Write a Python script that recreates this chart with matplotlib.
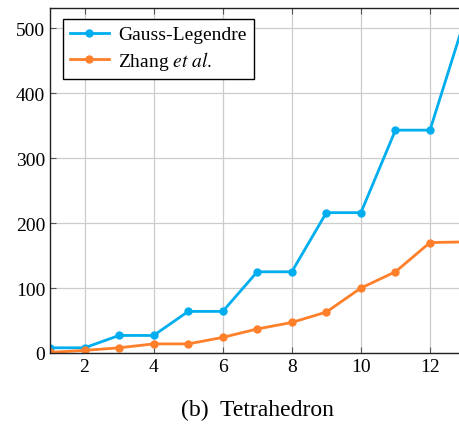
import matplotlib
matplotlib.use("Agg")
import matplotlib.pyplot as plt

# Number of evaluations vs order, tetrahedron
order = [1, 2, 3, 4, 5, 6, 7, 8, 9, 10, 11, 12, 13]
gauss_legendre = [8, 8, 27, 27, 64, 64, 125, 125, 216, 216, 343, 343, 512]
zhang = [1, 4, 8, 14, 14, 24, 37, 47, 63, 100, 125, 170, 171]

plt.rcParams['font.family'] = ['Liberation Serif', 'DejaVu Serif']
plt.rcParams['mathtext.fontset'] = 'stix'

fig = plt.figure(figsize=(4.59, 4.27), dpi=100)
ax = fig.add_axes([50 / 459, 1 - 354 / 427, 1 - 50 / 459, 345 / 427])

ax.plot(order, gauss_legendre, color='#00AEEF', lw=2, marker='o', ms=5,
        label='Gauss-Legendre', clip_on=True)
ax.plot(order, zhang, color='#FF7F2A', lw=2, marker='o', ms=5,
        label='Zhang $\\it{et\\ al.}$', clip_on=True)

ax.set_xlim(1, 12.84)
ax.set_ylim(0, 531)
ax.set_xticks([2, 4, 6, 8, 10, 12])
ax.set_yticks([0, 100, 200, 300, 400, 500])
ax.grid(True, color='#cccccc', lw=0.9)
ax.set_axisbelow(True)
ax.tick_params(direction='in', top=True, labelsize=14, length=4, color='#555555')
ax.spines['right'].set_visible(False)
for s in ['left', 'top', 'bottom']:
    ax.spines[s].set_linewidth(1.0)
    ax.spines[s].set_color('#222222')

leg = ax.legend(loc='upper left', fontsize=14, fancybox=False, framealpha=1,
                edgecolor='black', borderaxespad=0, handlelength=2.0,
                labelspacing=0.3, borderpad=0.35, handletextpad=0.5,
                bbox_to_anchor=(13 / 409, 1 - 11 / 345))
leg.get_frame().set_linewidth(1.0)

fig.text(257 / 459, 1 - 410 / 427, '(b)  Tetrahedron', ha='center', va='center',
         fontsize=17)

fig.savefig('out.png', dpi=100)
